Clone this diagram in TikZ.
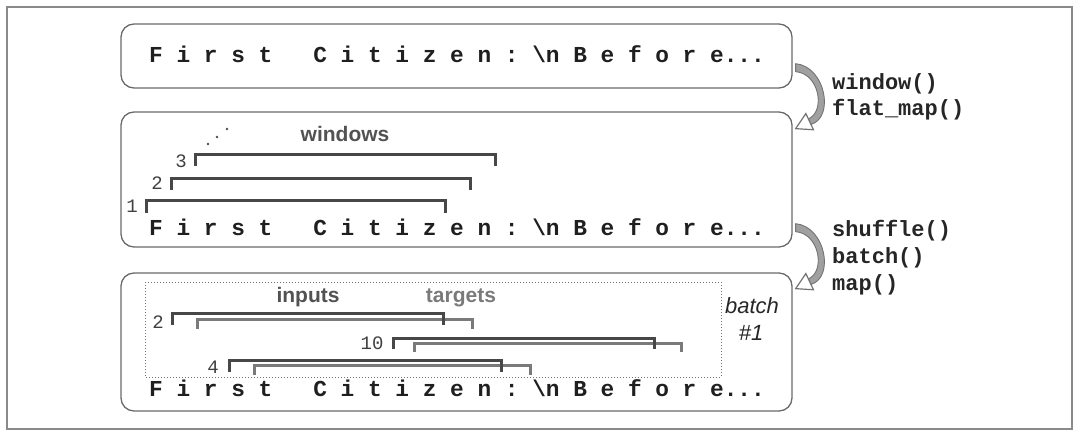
\documentclass[tikz,border=0pt]{standalone}
\usepackage{fontspec}
\setmainfont{Liberation Sans}
\setsansfont{Liberation Sans}
\setmonofont{Liberation Mono}
\usetikzlibrary{calc}
\definecolor{framegray}{HTML}{8A8A8A}
\definecolor{boxgray}{HTML}{6A6A6A}
\definecolor{arrfill}{HTML}{A0A0A0}
\definecolor{arrline}{HTML}{737373}
\definecolor{brkdark}{HTML}{474747}
\definecolor{brklight}{HTML}{7A7A7A}
\newcommand\citizen{F~i~r~s~t~~~C~i~t~i~z~e~n~:~\textbackslash n~B~e~f~o~r~e...}
\newcommand\flowarrow[1]{%
  \begin{scope}[shift={(#1)}]
    \filldraw[fill=arrfill, draw=arrline, line width=0.9pt, line join=round]
      (0,0) .. controls (30,3) and (39,54) .. (15.3,60.8) -- (12.7,55.2)
      .. controls (30,48) and (24,10) .. (0,8) -- cycle;
    \filldraw[fill=white, draw=arrline, line width=1.2pt, line join=miter]
      (0,65) -- (10.2,49.9) -- (17.8,66.1) -- cycle;
  \end{scope}}
\tikzset{
  box/.style={draw=boxgray, line width=1.3pt, rounded corners=13pt, inner sep=0pt},
  code/.style={font=\fontsize{22.8}{24}\selectfont\ttfamily\bfseries, text=black!88, inner sep=0pt, anchor=base west},
  op/.style={font=\fontsize{22}{24}\selectfont\ttfamily\bfseries, text=black!85, inner sep=0pt, anchor=base west},
  num/.style={font=\fontsize{19}{20}\selectfont\ttfamily, text=black!75, inner sep=0pt},
  lbl/.style={font=\fontsize{21}{22}\selectfont\sffamily\bfseries, inner sep=0pt},
  brk/.style={draw=brkdark, line width=3pt},
  brkt/.style={draw=brklight, line width=3pt},
}
\begin{document}
\begin{tikzpicture}[x=1pt,y=-1pt]
\useasboundingbox (0,0) rectangle (1080,436);
\draw[framegray, line width=1.5pt] (7,7) rectangle (1072,429);
% boxes
\node[box, minimum width=671pt, minimum height=64pt] (b1) at (456.5,56) {};
\node[box, minimum width=671pt, minimum height=135pt] (b2) at (456.5,179.5) {};
\node[box, minimum width=671pt, minimum height=138pt] (b3) at (456.5,342) {};
% code lines
\node[code] (t1) at (149,63) {\citizen};
\node[code] (t2) at (149,235) {\citizen};
\node[code] (t3) at (149,396) {\citizen};
% windows
\node[lbl, text=black!68, anchor=base] (wl) at (345,141) {windows};
\fill[black!70] (208,144) circle (1.3) (217,137) circle (1.3) (227,129) circle (1.3);
\node[num] (n1) at (132,206) {1};
\node[num] (n2) at (157,183) {2};
\node[num] (n3) at (181,161) {3};
\draw[brk] (146,213) |- (445,200) -- (445,213);
\draw[brk] (171,190) |- (470,178) -- (470,190);
\draw[brk] (195,166) |- (495,154) -- (495,166);
% batch
\draw[black!55, line width=1pt, dash pattern=on 1pt off 2pt] (145,282) rectangle (721,377);
\node[lbl, text=black!68, anchor=base] (il) at (308,302) {inputs};
\node[lbl, text=black!52, anchor=base] (tl) at (461,302) {targets};
\node[font=\fontsize{22}{24}\selectfont\sffamily\itshape, text=black!85, inner sep=0pt] (bt) at (752,306) {batch};
\node[font=\fontsize{22}{24}\selectfont\sffamily\itshape, text=black!85, inner sep=0pt] (bn) at (751,333) {\#1};
\node[num] (m2) at (158,322) {2};
\node[num] (m10) at (372,343) {10};
\node[num] (m4) at (213,367) {4};
\draw[brkt] (197,329) |- (472,319) -- (472,329);
\draw[brk] (172,325) |- (443,313) -- (443,325);
\draw[brkt] (414,352) |- (681,343) -- (681,352);
\draw[brk] (393,349) |- (654,338) -- (654,349);
\draw[brkt] (254,375) |- (530,365) -- (530,375);
\draw[brk] (229,372) |- (501,360) -- (501,372);
% arrows
\coordinate (a1) at ($(b1.south east)+(3,-25)$);
\coordinate (a2) at ($(b2.south east)+(3,-24)$);
\flowarrow{a1}
\flowarrow{a2}
\node[op] (o1) at (832,89) {window()};
\node[op] (o2) at (832,116) {flat\_map()};
\node[op] (o3) at (832,236) {shuffle()};
\node[op] (o4) at (832,263) {batch()};
\node[op] (o5) at (832,290) {map()};
\end{tikzpicture}
\end{document}
